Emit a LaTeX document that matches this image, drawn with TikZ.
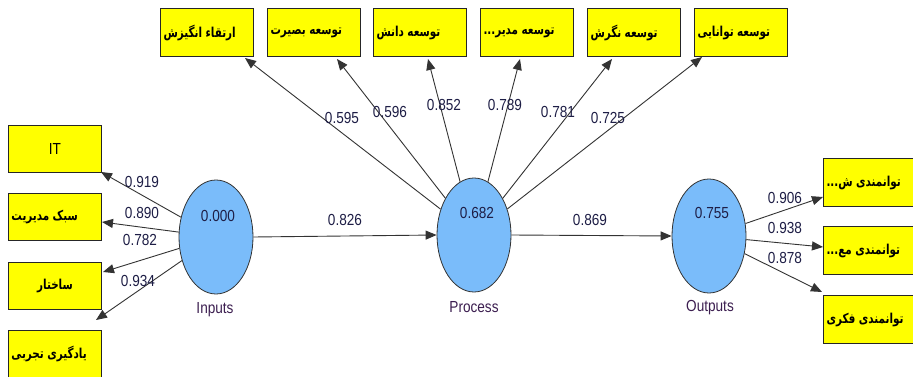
\documentclass[tikz,border=0pt]{standalone}
\usepackage{fontspec}
\setmainfont{Liberation Sans}
\newfontfamily\fa[Script=Arabic]{DejaVu Sans}
\TeXXeTstate=1
\usetikzlibrary{arrows.meta,shapes.geometric}
\definecolor{cblue}{RGB}{122,188,250}
\definecolor{cyel}{RGB}{255,255,0}
\definecolor{cnum}{RGB}{30,30,70}
\definecolor{cname}{RGB}{60,30,80}
\newcommand\nar[1]{\scalebox{0.85}[1]{#1}}
\newcommand\fat[1]{\scalebox{0.8}[1.05]{\fa\bfseries\beginR #1\endR}}
\begin{document}
\begin{tikzpicture}[x=1pt,y=-1pt,
  ind/.style={draw=black!85, fill=cyel, line width=1pt, anchor=north west,
    minimum width=93pt, minimum height=48pt, inner xsep=3pt, inner ysep=0pt,
    text width=87pt, align=left, font=\fontsize{13}{15}\selectfont},
  indc/.style={ind, align=center},
  lat/.style={ellipse, draw=black!80, fill=cblue, line width=0.8pt,
    minimum width=74pt, minimum height=114pt, inner sep=0pt},
  num/.style={text=cnum, font=\fontsize{16}{18}\selectfont, inner sep=0pt},
  lname/.style={text=cname, font=\fontsize{16}{18}\selectfont, inner sep=0pt},
  arr/.style={draw=black!80, line width=0.9pt, -{Triangle[length=11pt,width=9pt]}}]
\useasboundingbox (0,0) rectangle (913,377);
\fill[white] (0,0) rectangle (913,377);

% latent variables
\node[lat] (inp) at (216,237) {};
\node[lat] (proc) at (474,235) {};
\node[lat] (outp) at (709,236) {};
\node[num] (vinp) at (218,216) {\nar{0.000}};
\node[num] (vproc) at (477,213) {\nar{0.682}};
\node[num] (voutp) at (712,213) {\nar{0.755}};
\node[lname] (ninp) at (215,310) {\nar{Inputs}};
\node[lname] (nproc) at (474,307) {\nar{Process}};
\node[lname] (noutp) at (710,308) {\nar{Outputs}};

% top indicators
\node[ind] (t1) at (160,8) {\fat{ارتقاء انگیزش}};
\node[ind] (t2) at (267,8) {\fat{توسعه بصیرت}};
\node[ind] (t3) at (373,8) {\fat{توسعه دانش}};
\node[ind] (t4) at (480,8) {\fat{توسعه مدیر...}};
\node[ind] (t5) at (587,8) {\fat{توسعه نگرش}};
\node[ind] (t6) at (694,8) {\fat{توسعه توانایی}};

% left indicators
\node[indc, minimum height=47pt] (l1) at (8,125) {\nar{\fontsize{16}{18}\selectfont IT}};
\node[ind, minimum height=47pt] (l2) at (8,193) {\fat{سبک مدیریت}};
\node[indc, minimum height=47pt] (l3) at (8,262) {\fat{ساختار}};
\node[ind, minimum height=47pt] (l4) at (8,330) {\fat{یادگیری تجربی}};

% right indicators
\node[ind] (r1) at (823,158) {\fat{توانمندی ش...}};
\node[ind] (r2) at (823,226) {\fat{توانمندی مع...}};
\node[ind] (r3) at (823,295) {\fat{توانمندی فکری}};

% arrow tips
\coordinate (ct1) at (245,58);
\coordinate (ct2) at (337,59);
\coordinate (ct3) at (428,59);
\coordinate (ct4) at (520,59);
\coordinate (ct5) at (612,59);
\coordinate (ct6) at (702,57);
\coordinate (cl1) at (101,172);
\coordinate (cl2) at (102,222);
\coordinate (cl3) at (103,272);
\coordinate (cl4) at (96,320);
\coordinate (cr1) at (823,197);
\coordinate (cr2) at (823,247);
\coordinate (cr3) at (822,292);

\draw[arr] (proc) -- (ct1);
\draw[arr] (proc) -- (ct2);
\draw[arr] (proc) -- (ct3);
\draw[arr] (proc) -- (ct4);
\draw[arr] (proc) -- (ct5);
\draw[arr] (proc) -- (ct6);
\draw[arr] (inp) -- (cl1);
\draw[arr] (inp) -- (cl2);
\draw[arr] (inp) -- (cl3);
\draw[arr] (inp) -- (cl4);
\draw[arr] (outp) -- (cr1);
\draw[arr] (outp) -- (cr2);
\draw[arr] (outp) -- (cr3);
\draw[arr] (inp.east) -- (proc.west);
\draw[arr] (proc.east) -- (outp.west);

% loadings
\node[num] (e1) at (342,118) {\nar{0.595}};
\node[num] (e2) at (390,112) {\nar{0.596}};
\node[num] (e3) at (444,105) {\nar{0.852}};
\node[num] (e4) at (505,105) {\nar{0.789}};
\node[num] (e5) at (558,112) {\nar{0.781}};
\node[num] (e6) at (608,118) {\nar{0.725}};
\node[num] (e7) at (142,182) {\nar{0.919}};
\node[num] (e8) at (142,213) {\nar{0.890}};
\node[num] (e9) at (140,240) {\nar{0.782}};
\node[num] (e10) at (138,281) {\nar{0.934}};
\node[num] (e11) at (345,220) {\nar{0.826}};
\node[num] (e12) at (590,220) {\nar{0.869}};
\node[num] (e13) at (785,198) {\nar{0.906}};
\node[num] (e14) at (785,228) {\nar{0.938}};
\node[num] (e15) at (785,258) {\nar{0.878}};
\end{tikzpicture}
\end{document}
